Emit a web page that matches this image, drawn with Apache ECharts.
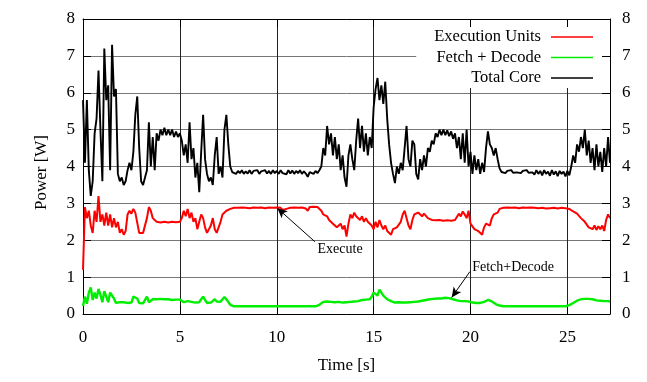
<!DOCTYPE html>
<html>
<head>
<meta charset="utf-8">
<script src="https://cdn.jsdelivr.net/npm/echarts/dist/echarts.min.js"></script>
<style>html,body{margin:0;padding:0;background:#fff}#c{width:647px;height:382px}</style>
</head>
<body>
<div id="c"></div>
<script>
// sampling step of the traces (seconds)
const DT = 0.1;
const xTickValues = [0, 5, 10, 15, 20, 25];
const yTickValues = [0, 1, 2, 3, 4, 5, 6, 7, 8];
const seriesNames = ['Execution Units', 'Fetch + Decode', 'Total Core'];

// Execution Units power [W], t = 0 .. 27.2 s every 0.1 s
const executionUnits = [
1.2,2.9,2.6,2.8,2.4,2.2,2.8,2.5,3.2,2.5,
2.7,2.4,2.75,2.4,2.7,2.35,2.6,2.35,2.5,2.2,
2.3,2.15,2.25,2.7,2.8,2.72,2.85,2.75,2.8,2.2,
2.15,2.2,2.15,2.6,2.9,2.8,2.6,2.55,2.5,2.53,
2.48,2.52,2.5,2.53,2.48,2.52,2.5,2.54,2.49,2.52,
2.5,2.6,2.8,2.65,2.85,2.6,2.75,2.5,2.6,2.3,
2.5,2.7,2.6,2.35,2.2,2.15,2.4,2.6,2.3,2.2,
2.25,2.5,2.7,2.65,2.8,2.75,2.85,2.9,2.88,2.92,
2.88,2.91,2.89,2.92,2.88,2.9,2.87,2.92,2.89,2.91,
2.88,2.92,2.89,2.9,2.87,2.91,2.89,2.92,2.88,2.9,
2.89,2.91,2.88,2.82,2.8,2.85,2.9,2.88,2.91,2.89,
2.9,2.88,2.92,2.89,2.9,2.86,2.8,2.9,2.88,2.91,
2.87,2.9,2.88,2.8,2.7,2.75,2.65,2.55,2.6,2.45,
2.4,2.35,2.3,2.45,2.3,2.4,2.1,2.45,2.7,2.6,
2.75,2.65,2.7,2.55,2.65,2.5,2.6,2.5,2.45,2.4,
2.3,2.5,2.35,2.55,2.4,2.3,2.4,2.25,2.3,2.15,
2.3,2.25,2.35,2.4,2.5,2.7,2.8,2.75,2.4,2.3,
2.55,2.7,2.65,2.75,2.7,2.65,2.72,2.7,2.6,2.55,
2.55,2.52,2.54,2.51,2.55,2.52,2.53,2.5,2.54,2.52,
2.53,2.5,2.55,2.6,2.72,2.65,2.78,2.7,2.6,2.8,
2.45,2.4,2.3,2.35,2.25,2.3,2.15,2.35,2.45,2.5,
2.4,2.6,2.7,2.65,2.75,2.85,2.9,2.88,2.91,2.89,
2.9,2.88,2.92,2.89,2.9,2.87,2.91,2.89,2.92,2.88,
2.9,2.89,2.92,2.88,2.9,2.87,2.91,2.88,2.9,2.86,
2.9,2.87,2.91,2.88,2.9,2.86,2.9,2.88,2.91,2.87,
2.89,2.85,2.82,2.78,2.8,2.72,2.7,2.6,2.65,2.5,
2.45,2.35,2.4,2.3,2.4,2.28,2.38,2.3,2.4,2.25,
2.55,2.7,2.6
];

// Fetch + Decode power [W]
const fetchDecode = [
0.22,0.47,0.28,0.58,0.72,0.38,0.58,0.42,0.68,0.52,
0.32,0.62,0.58,0.32,0.58,0.6,0.42,0.3,0.31,0.32,
0.3,0.32,0.31,0.3,0.32,0.31,0.47,0.48,0.42,0.3,
0.28,0.29,0.28,0.47,0.32,0.36,0.4,0.41,0.4,0.39,
0.41,0.39,0.4,0.38,0.4,0.39,0.38,0.4,0.39,0.38,
0.39,0.36,0.32,0.3,0.35,0.4,0.33,0.3,0.31,0.35,
0.32,0.4,0.47,0.38,0.3,0.29,0.31,0.35,0.4,0.34,
0.3,0.33,0.4,0.46,0.43,0.33,0.25,0.22,0.21,0.22,
0.21,0.22,0.21,0.22,0.21,0.22,0.21,0.22,0.21,0.22,
0.21,0.22,0.21,0.22,0.21,0.22,0.21,0.22,0.21,0.22,
0.21,0.22,0.21,0.22,0.21,0.22,0.21,0.22,0.21,0.22,
0.21,0.22,0.21,0.22,0.21,0.22,0.21,0.22,0.21,0.22,
0.21,0.22,0.25,0.3,0.33,0.35,0.34,0.36,0.33,0.35,
0.32,0.35,0.33,0.36,0.31,0.34,0.32,0.35,0.33,0.36,
0.34,0.37,0.35,0.39,0.38,0.4,0.39,0.42,0.4,0.47,
0.58,0.62,0.5,0.66,0.58,0.5,0.46,0.4,0.38,0.35,
0.33,0.31,0.3,0.32,0.3,0.31,0.29,0.31,0.3,0.32,
0.31,0.33,0.32,0.34,0.35,0.36,0.37,0.38,0.39,0.4,
0.4,0.41,0.42,0.42,0.43,0.42,0.43,0.44,0.42,0.43,
0.41,0.4,0.38,0.37,0.36,0.35,0.34,0.35,0.33,0.34,
0.32,0.31,0.32,0.3,0.31,0.3,0.32,0.33,0.35,0.38,
0.37,0.34,0.3,0.27,0.25,0.23,0.22,0.21,0.22,0.21,
0.22,0.21,0.22,0.21,0.22,0.21,0.22,0.21,0.22,0.21,
0.22,0.21,0.22,0.21,0.22,0.21,0.22,0.21,0.22,0.21,
0.22,0.21,0.22,0.21,0.22,0.21,0.22,0.21,0.22,0.21,
0.22,0.24,0.27,0.3,0.33,0.36,0.38,0.4,0.42,0.41,
0.43,0.41,0.42,0.4,0.38,0.37,0.35,0.36,0.34,0.35,
0.33,0.35,0.34
];

// Total Core power [W]
const totalCore = [
5.8,4.1,5.8,3.9,3.2,3.6,4.9,5.3,6.6,5.0,
3.6,7.2,5.8,6.2,3.9,7.3,5.9,6.1,3.8,3.6,
3.7,3.5,3.6,3.9,4.1,3.9,4.4,5.4,5.9,4.5,
3.6,3.5,3.7,3.9,5.2,4.0,4.8,3.9,4.9,4.7,
5.0,4.85,5.05,4.85,5.0,4.85,5.0,4.8,4.95,4.8,
4.9,4.7,4.3,4.6,4.1,5.2,4.2,4.5,3.7,4.1,
3.3,4.4,5.4,4.2,3.8,3.6,3.7,3.5,4.3,4.8,
3.8,4.0,3.7,5.0,5.4,4.6,4.0,3.85,3.9,3.8,
3.88,3.82,3.9,3.8,3.87,3.81,3.9,3.8,3.88,3.83,
3.9,3.8,3.87,3.82,3.9,3.81,3.88,3.8,3.9,3.82,
3.88,3.8,3.9,3.82,3.87,3.79,3.9,3.81,3.89,3.8,
3.88,3.82,3.9,3.8,3.87,3.81,3.72,3.85,3.9,3.8,
3.88,3.82,3.9,4.0,4.5,4.3,5.1,4.6,4.9,4.3,
4.8,4.2,4.6,3.9,4.3,3.7,3.45,4.3,4.6,4.2,
3.9,4.7,5.3,4.5,5.1,4.4,4.9,4.3,4.8,4.5,
5.6,6.1,6.4,5.8,6.2,5.7,6.3,5.3,4.6,4.1,
3.8,3.55,4.0,3.8,4.1,3.9,4.5,5.1,4.2,4.0,
4.7,4.6,3.8,3.65,4.2,3.9,4.3,4.0,4.5,4.4,
4.7,4.6,4.9,4.8,5.0,4.85,5.0,4.85,4.98,4.82,
4.95,4.75,4.9,4.5,4.8,4.2,4.9,4.1,5.0,4.0,
4.4,3.8,4.3,3.9,4.2,3.8,4.1,3.85,4.5,4.95,
4.6,4.5,4.3,4.5,4.2,3.95,3.85,3.9,3.82,3.88,
3.84,3.9,3.83,3.88,3.84,3.89,3.82,3.88,3.84,3.9,
3.83,3.88,3.84,3.78,3.9,3.8,3.88,3.76,3.9,3.8,
3.86,3.75,3.9,3.78,3.87,3.74,3.88,3.8,3.86,3.73,
3.88,3.76,4.0,4.3,4.1,4.6,4.4,4.8,4.5,5.0,
4.3,4.7,4.1,4.5,3.9,4.6,4.0,4.4,3.85,4.5,
4.0,4.8,4.1
];

// annotations (data coordinates)
const annotationTexts = ['Execute', 'Fetch+Decode'];
const annotationTextAt = [[12.08, 1.76], [20.06, 1.26]];
const arrowFrom = [[11.97, 1.96], [19.97, 1.15]];
const arrowTo = [[10.03, 2.87], [19.03, 0.45]];

const FONT = 'Liberation Serif';
const X_MAX = +((totalCore.length - 1) * DT).toFixed(1);

function withTime(values) {
  return values.map((v, i) => [+(i * DT).toFixed(1), v]);
}

const chart = echarts.init(document.getElementById('c'), null, {renderer: 'canvas'});

const axisText = {fontFamily: FONT, fontSize: 17, color: '#000'};

chart.setOption({
  animation: false,
  backgroundColor: '#fff',
  grid: {left: 83, right: 37, top: 19, bottom: 68, containLabel: false},
  legend: {
    data: seriesNames,
    orient: 'vertical',
    align: 'right',
    right: 37,
    top: 19,
    padding: [8, 17, 0, 18],
    itemGap: 0.5,
    itemWidth: 42,
    itemHeight: 1.3,
    icon: 'rect',
    backgroundColor: '#fff',
    selectedMode: false,
    textStyle: {fontFamily: FONT, fontSize: 16.5, color: '#000', lineHeight: 20, padding: [0, 5, 0, 0]}
  },
  xAxis: [{
    type: 'value',
    min: 0, max: X_MAX, interval: 5,
    name: 'Time [s]',
    nameLocation: 'middle',
    nameGap: 43,
    nameTextStyle: axisText,
    axisLine: {show: true, onZero: false, lineStyle: {color: '#000', width: 1}},
    axisTick: {show: true, inside: true, length: 8, lineStyle: {color: '#000'}},
    axisLabel: Object.assign({margin: 15, showMaxLabel: false,
      formatter: v => (xTickValues.indexOf(v) >= 0 ? String(v) : '')}, axisText),
    splitLine: {show: true, lineStyle: {color: '#222', width: 1}}
  }, {
    type: 'value',
    position: 'top',
    min: 0, max: X_MAX, interval: 5,
    z: 5,
    axisLine: {show: true, onZero: false, lineStyle: {color: '#000', width: 1}},
    axisTick: {show: true, inside: true, length: 8, lineStyle: {color: '#000'}},
    axisLabel: {show: false},
    splitLine: {show: false}
  }],
  yAxis: [{
    type: 'value',
    min: 0, max: 8, interval: 1,
    name: 'Power [W]',
    nameLocation: 'middle',
    nameGap: 33,
    nameTextStyle: Object.assign({padding: [0, 12, 0, 0]}, axisText),
    axisLine: {show: true, onZero: false, lineStyle: {color: '#000', width: 1}},
    axisTick: {show: true, inside: true, length: 8, lineStyle: {color: '#000'}},
    axisLabel: Object.assign({margin: 8,
      formatter: v => (yTickValues.indexOf(v) >= 0 ? String(v) : '')}, axisText),
    splitLine: {show: true, lineStyle: {color: '#777', width: 1}}
  }, {
    type: 'value',
    position: 'right',
    min: 0, max: 8, interval: 1,
    z: 5,
    axisLine: {show: true, onZero: false, lineStyle: {color: '#000', width: 1}},
    axisTick: {show: true, inside: true, length: 8, lineStyle: {color: '#000'}},
    axisLabel: Object.assign({margin: 12,
      formatter: v => (yTickValues.indexOf(v) >= 0 ? String(v) : '')}, axisText),
    splitLine: {show: false}
  }],
  series: [{
    name: seriesNames[0],
    type: 'line',
    data: withTime(executionUnits),
    symbol: 'none', showSymbol: false,
    color: '#ff0000',
    lineStyle: {color: '#ff0000', width: 2},
    z: 3
  }, {
    name: seriesNames[1],
    type: 'line',
    data: withTime(fetchDecode),
    symbol: 'none', showSymbol: false,
    color: '#00ee00',
    lineStyle: {color: '#00ee00', width: 2.4},
    z: 3
  }, {
    name: seriesNames[2],
    type: 'line',
    data: withTime(totalCore),
    symbol: 'none', showSymbol: false,
    color: '#000000',
    lineStyle: {color: '#000000', width: 1.9},
    z: 3,
    markLine: {
      silent: true,
      symbol: ['none', 'arrow'],
      symbolSize: [7, 10],
      lineStyle: {color: '#000', width: 1, type: 'solid'},
      label: {show: false},
      data: arrowFrom.map((f, i) => [{coord: f}, {coord: arrowTo[i]}])
    },
    markPoint: {
      silent: true,
      symbol: 'circle',
      symbolSize: 1,
      itemStyle: {color: 'rgba(0,0,0,0)'},
      label: {show: true, position: 'right', distance: 0, fontFamily: FONT, fontSize: 14, color: '#000',
        formatter: p => p.name},
      data: annotationTexts.map((t, i) => ({name: t, coord: annotationTextAt[i]}))
    }
  }]
});
</script>
</body>
</html>
